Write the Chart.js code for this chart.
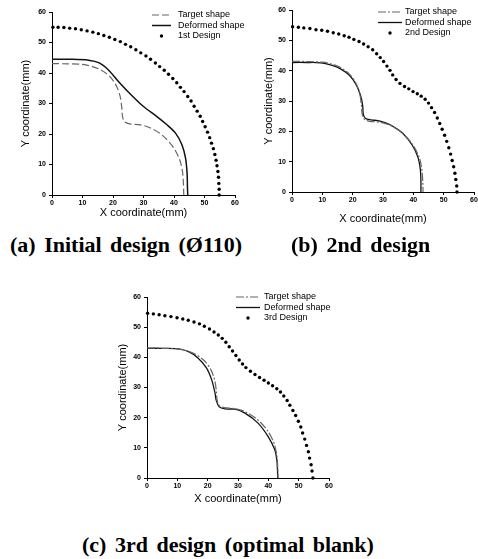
<!DOCTYPE html>
<html>
<head>
<meta charset="utf-8">
<script src="https://cdn.jsdelivr.net/npm/chart.js@4.4.1/dist/chart.umd.min.js"></script>
<style>
  body { margin: 0; background: #fff; width: 478px; height: 559px; position: relative; overflow: hidden; }
  canvas { position: absolute; }
  .cap { position: absolute; font-family: "Liberation Serif", "Times New Roman", serif; font-weight: bold;
         font-size: 22px; line-height: 1; word-spacing: 3px; white-space: nowrap; color: #000; }
</style>
</head>
<body>
<canvas id="chartA" width="256" height="220" style="left:0px;top:0px"></canvas>
<canvas id="chartB" width="238" height="226" style="left:240px;top:0px"></canvas>
<canvas id="chartC" width="280" height="221" style="left:95px;top:285px"></canvas>
<div class="cap" style="left:10px;top:234px">(a) Initial design (Ø110)</div>
<div class="cap" style="left:291px;top:234px">(b) 2nd design</div>
<div class="cap" style="left:82px;top:534px">(c) 3rd design (optimal blank)</div>
<script>
// target shape (same in all three panels)
const targetX = [0, 5, 10, 13, 16, 19, 21, 22.3, 22.9, 23.1, 23.8, 25.5, 29, 32.5, 36.5, 39.8, 41.9, 42.8, 43.1, 43.2];
const targetY = [43.1, 43.0, 42.8, 42.2, 41.0, 38.8, 36.0, 32.5, 28.5, 25.8, 24.0, 23.3, 23.0, 21.9, 19.3, 15.6, 11.5, 7.5, 3.5, 0];

// deformed shapes
const defAX = [0, 6, 12, 15.5, 18.5, 22, 25.5, 30, 34.3, 37.6, 40.5, 42.6, 43.8, 44.3, 44.4, 44.5];
const defAY = [44.5, 44.5, 44.2, 43.3, 41.0, 37.0, 33.3, 29.0, 25.8, 23.1, 20.3, 16.5, 12.0, 7.0, 3.0, 0];
const defBX = [0, 5, 9.5, 13, 16, 19, 21.2, 22.6, 23.3, 23.5, 24.3, 26, 29, 32.5, 36.5, 39.6, 41.5, 42.3, 42.5, 42.5];
const defBY = [42.7, 42.7, 42.6, 41.8, 40.6, 38.4, 35.3, 31.8, 28.5, 25.6, 24.2, 23.8, 23.4, 22.1, 19.4, 15.5, 11.5, 7.5, 3.5, 0];
const defCX = [0, 5, 9.5, 13.5, 16.8, 19.6, 21.3, 22.4, 22.8, 23.8, 25.7, 29, 32.3, 36.6, 39.9, 42.1, 42.8, 43.0, 43.1];
const defCY = [43.0, 43.0, 42.9, 42.0, 39.8, 36.5, 32.6, 28.3, 25.8, 23.6, 22.9, 22.8, 21.5, 18.2, 13.8, 9.4, 6.0, 3.0, 0];

// blank designs (dots)
const des1X = [0.3, 2.0, 3.9, 5.8, 7.7, 9.6, 11.5, 13.4, 15.2, 17.0, 18.8, 20.6, 22.4, 24.1, 25.8, 27.5, 29.1, 30.8, 32.3, 33.9, 35.3, 36.8, 38.2, 39.6, 40.9, 42.1, 43.3, 44.5, 45.6, 46.6, 47.6, 48.6, 49.4, 50.2, 51.0, 51.7, 52.3, 52.9, 53.4, 53.8, 54.1, 54.4, 54.6, 54.7, 54.8, 54.8];
const des1Y = [55.0, 55.0, 54.9, 54.7, 54.5, 54.2, 53.8, 53.4, 52.9, 52.3, 51.7, 51.0, 50.3, 49.4, 48.6, 47.6, 46.6, 45.6, 44.5, 43.3, 42.1, 40.9, 39.6, 38.2, 36.8, 35.3, 33.9, 32.3, 30.8, 29.1, 27.5, 25.8, 24.1, 22.4, 20.6, 18.8, 17.0, 15.2, 13.3, 11.4, 9.6, 7.7, 5.8, 3.8, 1.9, 0.0];
const des2X = [0.2, 2.1, 3.9, 5.9, 7.9, 9.8, 11.7, 13.6, 15.4, 17.2, 18.8, 20.4, 22.1, 23.6, 25.1, 26.6, 27.9, 29.1, 30.2, 31.3, 32.3, 33.2, 34.3, 35.6, 37.1, 38.5, 39.9, 41.3, 42.6, 43.9, 45.0, 46.0, 47.0, 47.9, 48.7, 49.5, 50.3, 51.0, 51.7, 52.3, 52.8, 53.3, 53.7, 54.0, 54.3, 54.4];
const des2Y = [54.5, 54.3, 54.1, 53.9, 53.5, 53.3, 53.0, 52.5, 52.1, 51.5, 51.0, 50.3, 49.6, 48.8, 47.9, 46.9, 45.6, 44.3, 43.0, 41.5, 40.1, 38.6, 37.1, 35.8, 34.8, 34.0, 33.1, 32.4, 31.6, 30.6, 29.3, 27.8, 26.2, 24.4, 22.6, 20.7, 18.7, 16.7, 14.6, 12.5, 10.4, 8.3, 6.2, 4.1, 2.0, 0];
const des3X = [0.2, 2.1, 4.0, 5.9, 7.9, 9.9, 11.8, 13.6, 15.5, 17.3, 18.9, 20.6, 22.1, 23.5, 24.8, 26.0, 27.1, 28.2, 29.3, 30.4, 31.5, 32.6, 34.1, 35.6, 37.1, 38.6, 40.0, 41.4, 42.8, 44.0, 45.1, 46.2, 47.1, 48.1, 49.0, 49.9, 50.7, 51.3, 52.0, 52.6, 53.2, 53.6, 54.1, 54.4, 54.7];
const des3Y = [54.6, 54.4, 54.1, 53.8, 53.5, 53.1, 52.7, 52.3, 51.7, 51.1, 50.3, 49.4, 48.4, 47.4, 46.3, 45.0, 43.5, 42.1, 40.6, 39.1, 37.8, 36.6, 35.4, 34.3, 33.3, 32.4, 31.5, 30.6, 29.6, 28.5, 27.2, 25.7, 24.1, 22.4, 20.7, 18.8, 16.9, 14.9, 12.9, 10.8, 8.7, 6.6, 4.4, 2.3, 0];

const axisMin = 0, axisMax = 60, axisStep = 10;

function pts(xs, ys) {
  return xs.map((x, i) => ({ x: x, y: ys[i] }));
}

const sans = '"Liberation Sans", Arial, sans-serif';

// legend drawn inside the plot, like the original figure
const insideLegend = {
  id: 'insideLegend',
  afterDraw(chart, args, opts) {
    const ctx = chart.ctx;
    ctx.save();
    ctx.font = '9px ' + sans;
    ctx.textBaseline = 'middle';
    chart.data.datasets.forEach((ds, i) => {
      const y = opts.y + i * opts.rowH;
      if (ds.showLine) {
        ctx.strokeStyle = ds.borderColor;
        ctx.lineWidth = ds.borderWidth;
        ctx.setLineDash(ds.borderDash || []);
        ctx.beginPath();
        ctx.moveTo(opts.x, y);
        ctx.lineTo(opts.x + opts.lineW, y);
        ctx.stroke();
        ctx.setLineDash([]);
      } else {
        ctx.fillStyle = ds.backgroundColor;
        ctx.beginPath();
        ctx.arc(opts.x + opts.lineW / 2, y, ds.pointRadius, 0, Math.PI * 2);
        ctx.fill();
      }
      ctx.fillStyle = '#000';
      ctx.fillText(ds.label, opts.x + opts.lineW + opts.gap, y);
    });
    ctx.restore();
  }
};

function axes(yW, xH) {
  const tickFont = { family: sans, size: 7, weight: 'bold' };
  const titleFont = { family: sans, size: 11 };
  const grid = { display: true, drawOnChartArea: false, tickLength: 3, color: '#000' };
  return {
    x: {
      type: 'linear', min: axisMin, max: axisMax,
      ticks: { stepSize: axisStep, font: tickFont, color: '#000', padding: 1, maxRotation: 0 },
      grid: grid,
      border: { color: '#000', width: 1 },
      title: { display: true, text: 'X coordinate(mm)', font: titleFont, color: '#000', padding: 0 },
      afterFit(s) { s.height = xH; s.paddingLeft = 0; s.paddingRight = 0; }
    },
    y: {
      type: 'linear', min: axisMin, max: axisMax,
      ticks: { stepSize: axisStep, font: tickFont, color: '#000', padding: 3 },
      grid: grid,
      border: { color: '#000', width: 1 },
      title: { display: true, text: 'Y coordinate(mm)', font: titleFont, color: '#000', padding: 0 },
      afterFit(s) { s.width = yW; s.paddingTop = 0; s.paddingBottom = 0; }
    }
  };
}

function makeChart(id, cfg) {
  new Chart(document.getElementById(id), {
    type: 'scatter',
    data: {
      datasets: [{
        label: 'Target shape',
        data: pts(targetX, targetY),
        showLine: true, tension: 0.3, pointRadius: 0,
        borderColor: '#666', borderWidth: 1.2, borderDash: cfg.dash, clip: false
      }, {
        label: 'Deformed shape',
        data: pts(cfg.defX, cfg.defY),
        showLine: true, tension: 0.3, pointRadius: 0,
        borderColor: '#111', borderWidth: cfg.defW, clip: false
      }, {
        label: cfg.design,
        data: pts(cfg.desX, cfg.desY),
        showLine: false, pointRadius: 1.7, pointStyle: 'circle',
        backgroundColor: '#000', borderColor: '#000', borderWidth: 0, clip: false
      }]
    },
    options: {
      responsive: false,
      animation: false,
      layout: { padding: cfg.pad },
      scales: axes(cfg.yW, cfg.xH),
      plugins: {
        legend: { display: false },
        tooltip: { enabled: false },
        insideLegend: cfg.legend
      }
    },
    plugins: [insideLegend]
  });
}

makeChart('chartA', {
  defX: defAX, defY: defAY, desX: des1X, desY: des1Y, design: '1st Design',
  dash: [7, 3], defW: 1.5,
  pad: { left: 19, top: 12, right: 21, bottom: 0 }, yW: 33, xH: 25,
  legend: { x: 152, y: 15, lineW: 19, gap: 7, rowH: 10.5 }
});

makeChart('chartB', {
  defX: defBX, defY: defBY, desX: des2X, desY: des2Y, design: '2nd Design',
  dash: [8, 2, 2, 2], defW: 1.3,
  pad: { left: 22, top: 10, right: 3, bottom: 0 }, yW: 30, xH: 34,
  legend: { x: 138, y: 12, lineW: 24, gap: 3, rowH: 10.5 }
});

makeChart('chartC', {
  defX: defCX, defY: defCY, desX: des3X, desY: des3Y, design: '3rd Design',
  dash: [8, 2, 2, 2], defW: 1.3,
  pad: { left: 21, top: 12, right: 46, bottom: 0 }, yW: 31, xH: 28,
  legend: { x: 141, y: 12, lineW: 24, gap: 4, rowH: 10.5 }
});
</script>
</body>
</html>
